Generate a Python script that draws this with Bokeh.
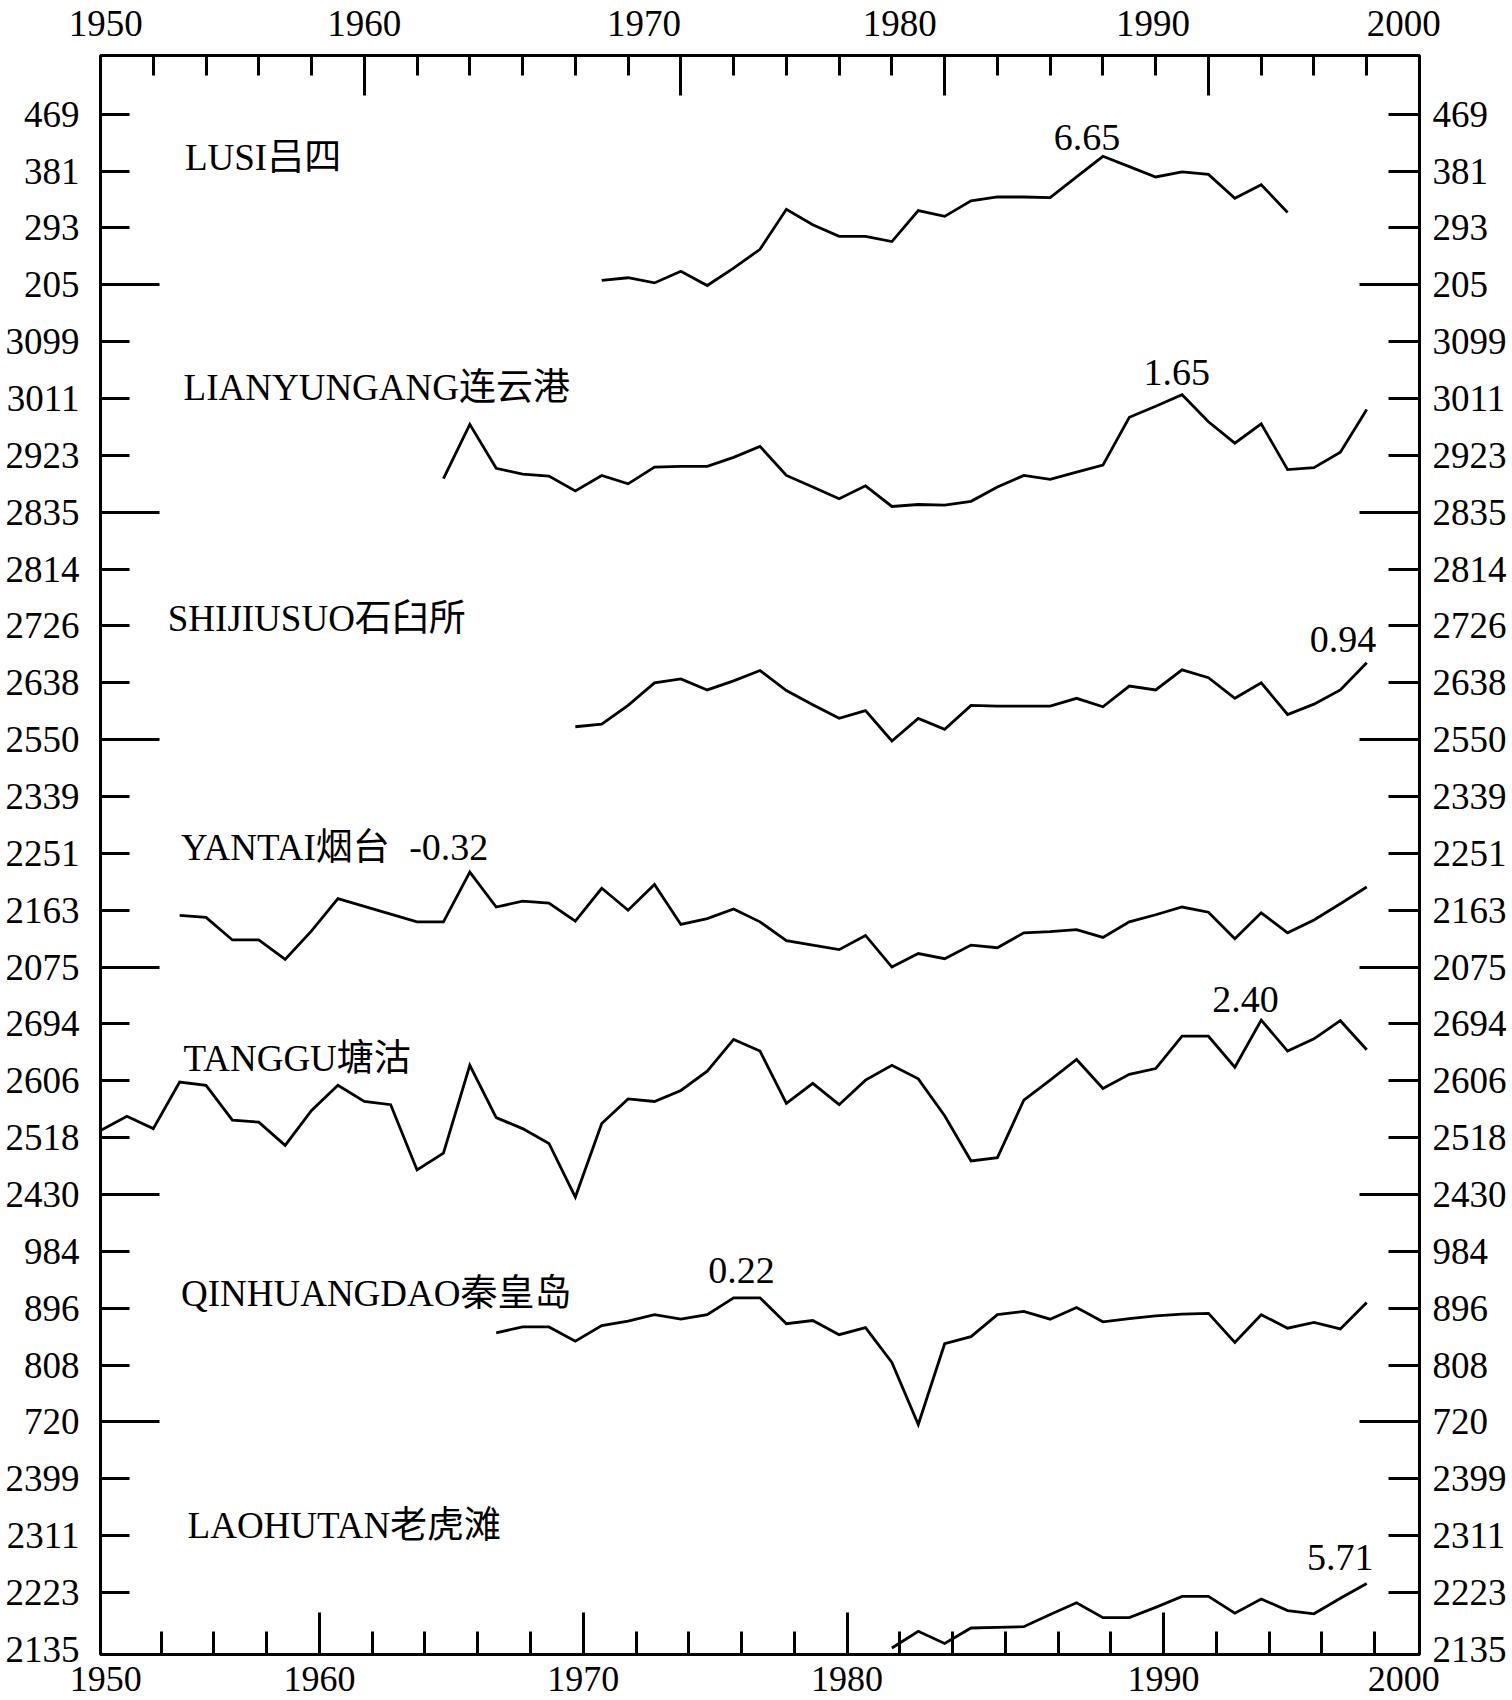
from bokeh.plotting import figure
from bokeh.models import Range1d, LinearAxis, FixedTicker, ColumnDataSource
from bokeh.core.properties import value
from bokeh.embed import file_html
from bokeh.resources import INLINE

# ---------------- data (mean sea level, mm) ----------------
lusi_years = list(range(1969, 1996))
lusi = [212, 216, 208, 226, 204, 231, 260, 322, 298, 280, 280, 272, 320, 311,
        335, 341, 341, 340, 372, 404, 388, 372, 380, 376, 339, 360, 317]

lianyungang_years = list(range(1963, 1999))
lianyungang = [2887, 2971, 2903, 2894, 2891, 2868, 2892, 2879, 2905, 2906, 2906,
               2920, 2937, 2892, 2874, 2856, 2876, 2844, 2847, 2846, 2852, 2874,
               2892, 2886, 2897, 2908, 2982, 2999, 3017, 2975, 2942, 2972, 2901,
               2904, 2928, 2994]

shijiusuo_years = list(range(1968, 1999))
shijiusuo = [2570, 2574, 2603, 2638, 2644, 2627, 2641, 2657, 2626, 2604, 2583,
             2595, 2548, 2583, 2566, 2603, 2602, 2602, 2602, 2614, 2601, 2633,
             2627, 2658, 2646, 2614, 2638, 2589, 2605, 2627, 2669]

yantai_years = list(range(1953, 1999))
yantai = [2155, 2152, 2117, 2117, 2087, 2131, 2181, 2169, 2157, 2145,
          2145, 2222, 2168, 2177, 2174, 2146, 2197, 2163, 2203, 2141,
          2150, 2165, 2145, 2116, 2109, 2102, 2124, 2075, 2096, 2088,
          2109, 2105, 2128, 2130, 2133, 2121, 2145, 2156, 2168, 2160,
          2119, 2159, 2128, 2148, 2173, 2199]

tanggu_years = list(range(1950, 1999))
tanggu = [2529, 2551, 2532, 2604, 2599, 2545, 2542, 2506, 2560, 2599,
          2574, 2569, 2468, 2494, 2630, 2549, 2532, 2509, 2426, 2540,
          2578, 2574, 2591, 2621, 2670, 2652, 2571, 2602, 2569, 2607,
          2630, 2609, 2552, 2482, 2487, 2576, 2607, 2639, 2594, 2616,
          2625, 2675, 2675, 2627, 2700, 2652, 2671, 2699, 2654]

qinhuangdao_years = list(range(1965, 1999))
qinhuangdao = [858, 867, 867, 845, 869,
               876, 886, 879, 886, 912, 912, 872, 877, 855, 866,
               812, 716, 841, 852, 886, 891, 879, 897, 875, 880,
               884, 887, 888, 843, 886, 865, 874, 864, 905]

laohutan_years = list(range(1980, 1999))
laohutan = [2137, 2163, 2144, 2168, 2169, 2170, 2189, 2207, 2184, 2184,
            2200, 2217, 2217, 2191, 2213, 2195, 2190, 2214, 2237]

station_names = ["LUSI吕四", "LIANYUNGANG连云港", "SHIJIUSUO石臼所", "YANTAI烟台",
                 "TANGGU塘沽", "QINHUANGDAO秦皇岛", "LAOHUTAN老虎滩"]
panel_bases = [205, 2835, 2550, 2075, 2430, 720, 2135]   # lowest tick value of each panel
tick_step = 88
ticks_per_panel = 4

trend_labels = ["6.65", "1.65", "0.94", "-0.32", "2.40", "0.22", "5.71"]

# x tick label / tick positions as they appear in the original figure
top_label_pos = [1950.2, 1960.0, 1970.6, 1980.3, 1989.9, 1999.4]
top_label_txt = ["1950", "1960", "1970", "1980", "1990", "2000"]
top_long_ticks = [1960, 1972, 1982, 1992]
top_short_ticks = list(range(1952, 2000, 2))
bottom_label_pos = [1950.2, 1958.3, 1968.3, 1978.3, 1990.3, 1999.4]
bottom_label_txt = ["1950", "1960", "1970", "1980", "1990", "2000"]
bottom_long_ticks = [1958.3, 1968.3, 1978.3, 1990.3]
bottom_short_ticks = [round(1952.3 + 2 * i, 1) for i in range(24)]

# ---------------- layout / styling ----------------
station_label_x = [1953.2, 1953.15, 1952.55, 1953.05, 1953.15, 1953.05, 1953.3]
station_label_y = [402, 3028, 2738, 2260, 2641, 919, 2327]
trend_x = [1987.4, 1990.8, 1997.1, 1963.2, 1993.4, 1974.3, 1997.0]
trend_y = [433, 3052, 2705, 2260, 2732, 954, 2277]

series = [(lusi_years, lusi), (lianyungang_years, lianyungang), (shijiusuo_years, shijiusuo),
          (yantai_years, yantai), (tanggu_years, tanggu), (qinhuangdao_years, qinhuangdao),
          (laohutan_years, laohutan)]

n_panels = len(panel_bases)
offsets = [(n_panels - 1 - i) * ticks_per_panel * tick_step for i in range(n_panels)]

def stack(i, v):
    return v - panel_bases[i] + offsets[i]

SERIF = "Liberation Serif, Noto Sans CJK SC"

p = figure(width=1512, height=1700, output_backend="svg", toolbar_location=None,
           x_range=Range1d(1950, 2000), y_range=Range1d(-8, 2467),
           x_axis_location=None, y_axis_location=None,
           min_border_left=100, min_border_right=93, min_border_top=55, min_border_bottom=46)
p.grid.visible = False
p.outline_line_color = "black"
p.outline_line_width = 3
p.background_fill_color = "white"
p.border_fill_color = "white"

for i, (yrs, vals) in enumerate(series):
    p.line(yrs, [stack(i, v) for v in vals], line_color="black", line_width=2.8,
           line_join="miter")

# station names
src = ColumnDataSource(dict(x=station_label_x,
                            y=[stack(i, v) for i, v in enumerate(station_label_y)],
                            text=station_names))
p.text(x="x", y="y", text="text", source=src, text_font=value(SERIF), text_font_size="37px",
       text_align="left", text_baseline="middle", text_color="black")

src2 = ColumnDataSource(dict(x=trend_x,
                             y=[stack(i, v) for i, v in enumerate(trend_y)],
                             text=trend_labels))
p.text(x="x", y="y", text="text", source=src2, text_font=value(SERIF), text_font_size="38px",
       text_align="center", text_baseline="middle", text_color="black")

# ---------------- axes ----------------
def tick_axis(major, minor, major_in, minor_in):
    return LinearAxis(ticker=FixedTicker(ticks=major, minor_ticks=minor),
                      major_tick_in=major_in, major_tick_out=0,
                      minor_tick_in=minor_in, minor_tick_out=0,
                      major_tick_line_width=3, minor_tick_line_width=3,
                      major_tick_line_color="black", minor_tick_line_color="black",
                      axis_line_color=None, major_label_text_font_size="1px",
                      major_label_text_color=None, major_label_standoff=0)

def label_axis(pos, txt, standoff, size="37px", line_height=1.2):
    return LinearAxis(ticker=FixedTicker(ticks=pos, minor_ticks=[]),
                      major_label_overrides={p_: t for p_, t in zip(pos, txt)},
                      major_tick_in=0, major_tick_out=0, major_tick_line_color=None,
                      minor_tick_line_color=None, axis_line_color=None,
                      major_label_text_font=SERIF, major_label_text_font_size=size,
                      major_label_text_line_height=line_height,
                      major_label_text_color="black", major_label_standoff=standoff)

y_tick_pos = [k * tick_step for k in range(n_panels * ticks_per_panel)]
y_tick_txt = []
for i in reversed(range(n_panels)):
    for j in range(ticks_per_panel):
        y_tick_txt.append(str(panel_bases[i] + j * tick_step))
y_long = [k * tick_step * ticks_per_panel for k in range(1, n_panels)]

p.add_layout(tick_axis(top_long_ticks, top_short_ticks, 40, 20), "above")
p.add_layout(label_axis(top_label_pos, top_label_txt, 20, "37px", 0.5), "above")
p.add_layout(tick_axis(bottom_long_ticks, bottom_short_ticks, 42, 23), "below")
p.add_layout(label_axis(bottom_label_pos, bottom_label_txt, 12, "36px", 0.5), "below")
p.add_layout(tick_axis(y_tick_pos[1:], y_long, 29, 59), "left")
p.add_layout(label_axis(y_tick_pos, y_tick_txt, 21), "left")
p.add_layout(tick_axis(y_tick_pos[1:], y_long, 31, 60), "right")
p.add_layout(label_axis(y_tick_pos, y_tick_txt, 13), "right")

open("out.html", "w").write(file_html(p, INLINE))
